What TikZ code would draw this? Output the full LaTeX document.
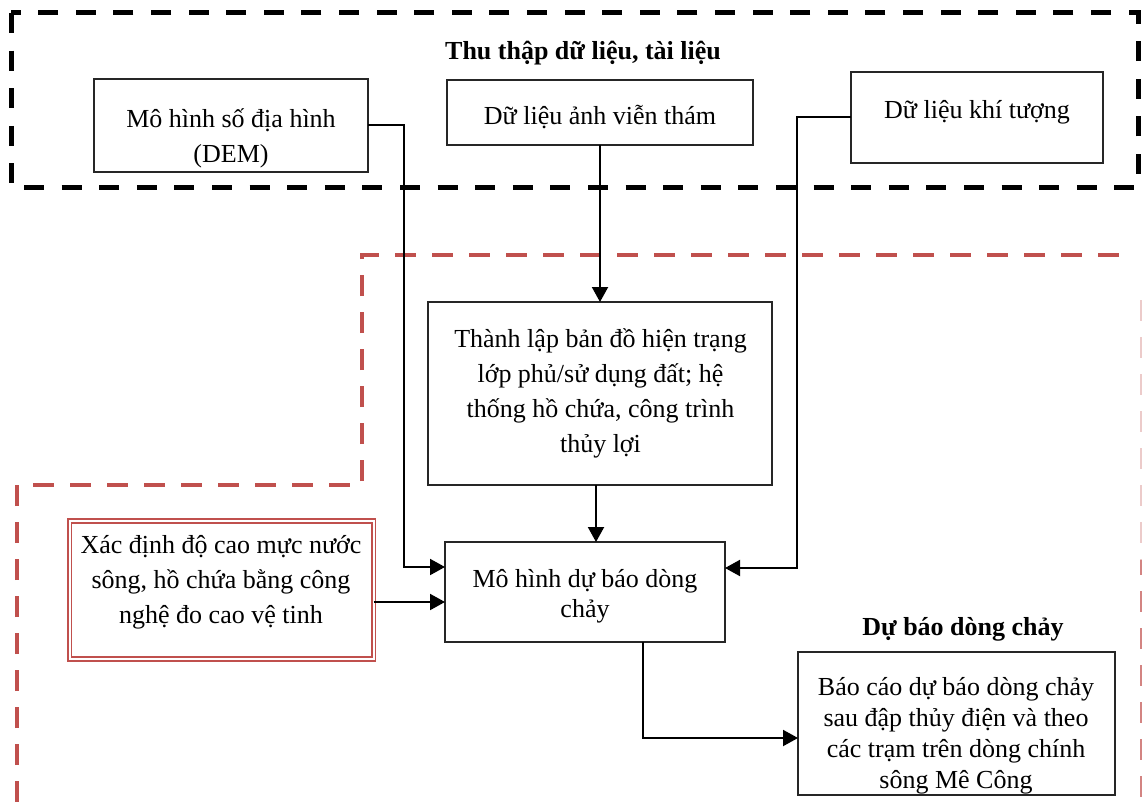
\documentclass[tikz,border=0pt]{standalone}
\usepackage{fontspec}
\setmainfont{Liberation Serif}
\usetikzlibrary{arrows.meta}
\definecolor{dashred}{HTML}{C0504D}
\begin{document}
\begin{tikzpicture}[x=1pt,y=-1pt,
  frame/.style={draw=black!85, line width=1.5pt, inner sep=0pt, outer sep=0pt},
  redframe/.style={draw=dashred, line width=1.6pt, double=white, double distance=2pt, inner sep=0pt, outer sep=0pt},
  txt/.style={align=center, inner sep=0pt, font=\fontsize{26}{35}\selectfont},
  head/.style={txt, font=\fontsize{26}{35}\selectfont\bfseries},
  conn/.style={draw=black, line width=2pt, -{Triangle[length=15pt,width=16pt]}},
  blackdash/.style={draw=black, line width=5pt, dash pattern=on 20pt off 17.6pt},
  reddash/.style={draw=dashred, line width=4pt, dash pattern=on 21pt off 16pt}]

\useasboundingbox (0,0) rectangle (1142,802);
\fill[white] (0,0) rectangle (1142,802);

% group outlines
\draw[blackdash] (11,13) rectangle (1138,188);
\draw[reddash] (17,802) -- (17,485) -- (362,485) -- (362,255) -- (1132,255);
\draw[reddash, draw=dashred!30] (1141.5,300) -- (1141.5,560);
\draw[reddash, draw=dashred!70, dash phase=6pt] (1141.5,560) -- (1141.5,802);

% headings
\node[head] (hdata) at (583,53) {\strut Thu thập dữ liệu, tài liệu};
\node[head] (hfore) at (963,628) {\strut Dự báo dòng chảy};

% boxes
\node[frame, minimum width=274pt, minimum height=93pt] (dem) at (231,125.5) {};
\node[txt] (demT) at (231,138) {\strut Mô hình số địa hình\\\strut (DEM)};

\node[frame, minimum width=306pt, minimum height=65pt] (remote) at (600,112.5) {};
\node[txt] (remoteT) at (600,118) {\strut Dữ liệu ảnh viễn thám};

\node[frame, minimum width=252pt, minimum height=91pt] (weather) at (977,117.5) {};
\node[txt] (weatherT) at (977,112) {\strut Dữ liệu khí tượng};

\node[frame, minimum width=344pt, minimum height=183pt] (map) at (600,393.5) {};
\node[txt] (mapT) at (600.5,393) {\strut Thành lập bản đồ hiện trạng\\\strut lớp phủ/sử dụng đất; hệ\\\strut thống hồ chứa, công trình\\\strut thủy lợi};

\node[frame, minimum width=280pt, minimum height=100pt] (model) at (585,592) {};
\node[txt, font=\fontsize{26}{30}\selectfont] (modelT) at (585,596) {\strut Mô hình dự báo dòng\\\strut chảy};

\node[redframe, minimum width=304pt, minimum height=138pt] (alt) at (221.5,590) {};
\node[txt] (altT) at (221,581) {\strut Xác định độ cao mực nước\\\strut sông, hồ chứa bằng công\\\strut nghệ đo cao vệ tinh};

\node[frame, minimum width=317pt, minimum height=143pt] (report) at (956.5,723.5) {};
\node[txt, font=\fontsize{26}{31}\selectfont] (reportT) at (956,736) {\strut Báo cáo dự báo dòng chảy\\\strut sau đập thủy điện và theo\\\strut các trạm trên dòng chính\\\strut sông Mê Công};

% connectors
\draw[conn] (dem.east) -- ++(36,0) |- ([yshift=25pt]model.west);
\draw[conn] (remote.south) -- (map.north);
\draw[conn] (weather.west) -- ++(-54,0) |- ([yshift=24pt]model.east);
\draw[conn] ([xshift=-4pt]map.south) -- ([xshift=11pt]model.north);
\draw[conn] ([yshift=-12pt]alt.east) -- ([yshift=-10pt]model.west);
\draw[conn] ([xshift=58pt]model.south) |- ([yshift=-14.5pt]report.west);
\end{tikzpicture}
\end{document}
